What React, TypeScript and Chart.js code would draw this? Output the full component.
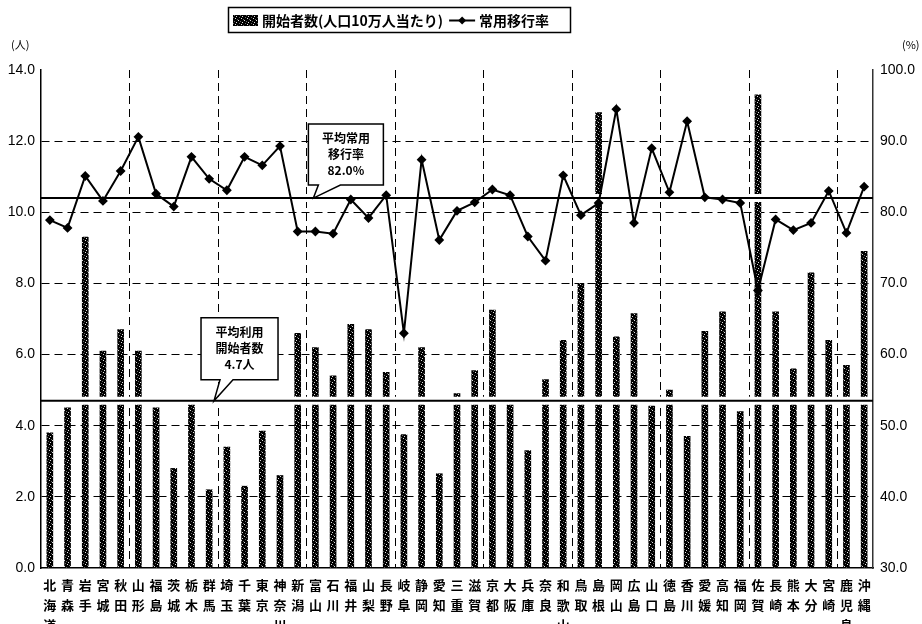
import React, { useEffect, useRef } from 'react';
import { Chart, registerables } from 'chart.js';

Chart.register(...registerables);

const prefectures = [
  '北海道', '青森', '岩手', '宮城', '秋田', '山形', '福島', '茨城', '栃木', '群馬',
  '埼玉', '千葉', '東京', '神奈川', '新潟', '富山', '石川', '福井', '山梨', '長野',
  '岐阜', '静岡', '愛知', '三重', '滋賀', '京都', '大阪', '兵庫', '奈良', '和歌山',
  '鳥取', '島根', '岡山', '広島', '山口', '徳島', '香川', '愛媛', '高知', '福岡',
  '佐賀', '長崎', '熊本', '大分', '宮崎', '鹿児島', '沖縄',
];

// 開始者数(人口10万人当たり)
const starters = [
  3.8, 4.5, 9.3, 6.1, 6.7, 6.1, 4.5, 2.8, 4.8, 2.2,
  3.4, 2.3, 3.85, 2.6, 6.6, 6.2, 5.4, 6.85, 6.7, 5.5,
  3.75, 6.2, 2.65, 4.9, 5.55, 7.25, 4.8, 3.3, 5.3, 6.4,
  8.0, 12.8, 6.5, 7.15, 4.55, 5.0, 3.7, 6.65, 7.2, 4.4,
  13.3, 7.2, 5.6, 8.3, 6.4, 5.7, 8.9,
];

// 常用移行率 (%)
const conversionRate = [
  78.9, 77.8, 85.1, 81.6, 85.8, 90.6, 82.6, 80.8, 87.8, 84.7,
  83.1, 87.8, 86.6, 89.3, 77.3, 77.3, 77.0, 81.8, 79.2, 82.4,
  63.0, 87.4, 76.1, 80.2, 81.4, 83.2, 82.4, 76.6, 73.2, 85.2,
  79.6, 81.3, 94.5, 78.5, 89.0, 82.8, 92.8, 82.1, 81.8, 81.3,
  69.0, 79.0, 77.5, 78.5, 83.0, 77.1, 83.6,
];

const leftAxis = { min: 0, max: 14, step: 2 };
const rightAxis = { min: 30, max: 100, step: 10 };

const avgStarters = 4.7;
const avgConversion = 82.0;

const legendBarLabel = '開始者数(人口10万人当たり)';
const legendLineLabel = '常用移行率';
const calloutConversion = ['平均常用', '移行率', '82.0%'];
const calloutStarters = ['平均利用', '開始者数', '4.7人'];
const leftUnit = '(人)';
const rightUnit = '(%)';

const CJK = '"Noto Sans CJK JP", "Noto Sans", sans-serif';
const NUM = '"Liberation Sans", Arial, sans-serif';

function makePattern(): CanvasPattern | string {
  const pc = document.createElement('canvas');
  pc.width = 6;
  pc.height = 6;
  const g = pc.getContext('2d');
  if (!g) return '#222';
  g.fillStyle = '#000';
  g.fillRect(0, 0, 6, 6);
  g.fillStyle = '#e0e0e0';
  const dots = [[1, 0], [4, 2], [2, 4]];
  dots.forEach(([x, y]) => g.fillRect(x, y, 1, 1));
  g.fillStyle = '#666';
  const mid = [[3, 1], [0, 3], [5, 5]];
  mid.forEach(([x, y]) => g.fillRect(x, y, 1, 1));
  const p = g.createPattern(pc, 'repeat');
  return p || '#222';
}

function drawCallout(
  ctx: CanvasRenderingContext2D,
  tipX: number,
  tipY: number,
  box: { dx: number; dy: number; w: number; h: number },
  tail: [number, number],
  lines: string[],
) {
  const x = tipX + box.dx;
  const y = tipY + box.dy;
  const b = y + box.h;
  ctx.save();
  ctx.beginPath();
  ctx.moveTo(x, y);
  ctx.lineTo(x + box.w, y);
  ctx.lineTo(x + box.w, b);
  ctx.lineTo(tipX + tail[1], b);
  ctx.lineTo(tipX, tipY);
  ctx.lineTo(tipX + tail[0], b);
  ctx.lineTo(x, b);
  ctx.closePath();
  ctx.fillStyle = '#fff';
  ctx.fill();
  ctx.lineWidth = 1.5;
  ctx.strokeStyle = '#000';
  ctx.stroke();
  ctx.fillStyle = '#000';
  ctx.font = `bold 12px ${CJK}`;
  ctx.textAlign = 'center';
  ctx.textBaseline = 'middle';
  const cx = x + box.w / 2;
  const lh = 16;
  const start = y + box.h / 2 - lh;
  lines.forEach((t, i) => ctx.fillText(t, cx, start + i * lh));
  ctx.restore();
}

export default function App() {
  const canvasRef = useRef<HTMLCanvasElement | null>(null);

  useEffect(() => {
    const canvas = canvasRef.current;
    if (!canvas) return;
    const pattern = makePattern();

    const refLinesPlugin = {
      id: 'refLines',
      beforeDatasetDraw(chart: any, args: any) {
        if (args.meta.type !== 'line') return;
        const { ctx, chartArea } = chart;
        const yL = chart.scales.y.getPixelForValue(avgStarters);
        const yR = chart.scales.y1.getPixelForValue(avgConversion);
        ctx.save();
        [yL, yR].forEach((yy) => {
          ctx.strokeStyle = '#fff';
          ctx.lineWidth = 8;
          ctx.beginPath();
          ctx.moveTo(chartArea.left + 1, yy);
          ctx.lineTo(chartArea.right - 1, yy);
          ctx.stroke();
          ctx.strokeStyle = '#000';
          ctx.lineWidth = 2;
          ctx.beginPath();
          ctx.moveTo(chartArea.left, yy);
          ctx.lineTo(chartArea.right, yy);
          ctx.stroke();
        });
        ctx.restore();
      },
    };

    const decorPlugin = {
      id: 'decor',
      afterDraw(chart: any) {
        const { ctx } = chart;
        const xs = chart.scales.x;
        const tip1x = xs.getPixelForValue(15) - 2;
        const tip1y = chart.scales.y1.getPixelForValue(avgConversion);
        drawCallout(ctx, tip1x, tip1y, { dx: -5, dy: -74, w: 75, h: 61 }, [5, 27], calloutConversion);
        const tip2x = (xs.getPixelForValue(9) + xs.getPixelForValue(10)) / 2 - 4;
        const tip2y = chart.scales.y.getPixelForValue(avgStarters);
        drawCallout(ctx, tip2x, tip2y, { dx: -13, dy: -83, w: 77, h: 62 }, [6, 19], calloutStarters);

        ctx.save();
        ctx.fillStyle = '#000';
        ctx.font = `11px ${CJK}`;
        ctx.textBaseline = 'middle';
        ctx.textAlign = 'left';
        ctx.fillText(leftUnit, 11, 45);
        ctx.fillText(rightUnit, 902, 45);

        const lx = 228.5, ly = 7.5, lw = 342, lh = 25;
        ctx.fillStyle = '#fff';
        ctx.fillRect(lx, ly, lw, lh);
        ctx.strokeStyle = '#000';
        ctx.lineWidth = 1.5;
        ctx.strokeRect(lx, ly, lw, lh);
        ctx.fillStyle = pattern as any;
        ctx.fillRect(233, 15, 25, 11);
        ctx.fillStyle = '#000';
        ctx.font = `bold 14px ${CJK}`;
        ctx.textAlign = 'left';
        ctx.textBaseline = 'middle';
        ctx.fillText(legendBarLabel, 262, 20.5);
        const w1 = ctx.measureText(legendBarLabel).width;
        const iconX = 262 + w1 + 6;
        ctx.lineWidth = 2;
        ctx.beginPath();
        ctx.moveTo(iconX, 20.5);
        ctx.lineTo(iconX + 26, 20.5);
        ctx.stroke();
        ctx.beginPath();
        ctx.moveTo(iconX + 13, 16.5);
        ctx.lineTo(iconX + 17, 20.5);
        ctx.lineTo(iconX + 13, 24.5);
        ctx.lineTo(iconX + 9, 20.5);
        ctx.closePath();
        ctx.fill();
        ctx.fillText(legendLineLabel, iconX + 30, 20.5);
        ctx.restore();
      },
    };

    const chart = new Chart(canvas, {
      type: 'bar',
      data: {
        labels: prefectures.map((p) => p.split('')),
        datasets: [
          {
            type: 'line',
            label: legendLineLabel,
            data: conversionRate,
            yAxisID: 'y1',
            borderColor: '#000',
            borderWidth: 2,
            backgroundColor: '#000',
            pointStyle: 'rectRot',
            pointRadius: 3.5,
            pointBackgroundColor: '#000',
            pointBorderColor: '#000',
            tension: 0,
            order: 0,
          } as any,
          {
            type: 'bar',
            label: legendBarLabel,
            data: starters,
            yAxisID: 'y',
            backgroundColor: pattern as any,
            borderWidth: 0,
            barThickness: 6,
            order: 1,
          },
        ],
      },
      options: {
        animation: false,
        responsive: false,
        maintainAspectRatio: false,
        layout: { padding: { top: 70, left: 0, right: 0, bottom: 0 } },
        plugins: {
          legend: { display: false },
          tooltip: { enabled: false },
          title: { display: false },
        },
        scales: {
          x: {
            offset: true,
            grid: {
              display: true,
              offset: true,
              drawTicks: false,
              lineWidth: 1,
              color: (c: any) =>
                c.index % 5 === 0 && c.index > 0 && c.index < prefectures.length ? '#000' : 'rgba(0,0,0,0)',
            },
            border: { display: true, color: '#000', width: 1.5, dash: [8, 5] },
            ticks: {
              autoSkip: false,
              maxRotation: 0,
              minRotation: 0,
              color: '#000',
              padding: 7,
              font: { family: CJK, size: 13, weight: 'bold', lineHeight: 1.55 },
            },
            afterFit: (s: any) => {
              s.height = 56;
            },
          },
          y: {
            position: 'left',
            min: leftAxis.min,
            max: leftAxis.max,
            grid: {
              drawTicks: false,
              lineWidth: 1,
              color: (c: any) =>
                c.tick && c.tick.value > leftAxis.min && c.tick.value < leftAxis.max ? '#000' : 'rgba(0,0,0,0)',
            },
            border: { display: true, color: '#000', width: 1.5, dash: [8, 5] },
            ticks: {
              stepSize: leftAxis.step,
              color: '#000',
              padding: 6,
              font: { family: NUM, size: 14 },
              callback: (v: any) => Number(v).toFixed(1),
            },
            afterFit: (s: any) => {
              s.width = 41;
            },
          },
          y1: {
            position: 'right',
            min: rightAxis.min,
            max: rightAxis.max,
            grid: { display: false, drawTicks: false },
            border: { display: true, color: '#333', width: 1.5 },
            ticks: {
              stepSize: rightAxis.step,
              color: '#000',
              padding: 7,
              font: { family: NUM, size: 14 },
              callback: (v: any) => Number(v).toFixed(1),
            },
            afterFit: (s: any) => {
              s.width = 49;
            },
          },
        },
      },
      plugins: [refLinesPlugin, decorPlugin],
    });

    return () => chart.destroy();
  }, []);

  return (
    <div style={{ position: 'absolute', left: 0, top: 0, width: 922, height: 624, overflow: 'hidden', background: '#fff' }}>
      <canvas ref={canvasRef} width={922} height={624} style={{ display: 'block', width: 922, height: 624 }} />
    </div>
  );
}
